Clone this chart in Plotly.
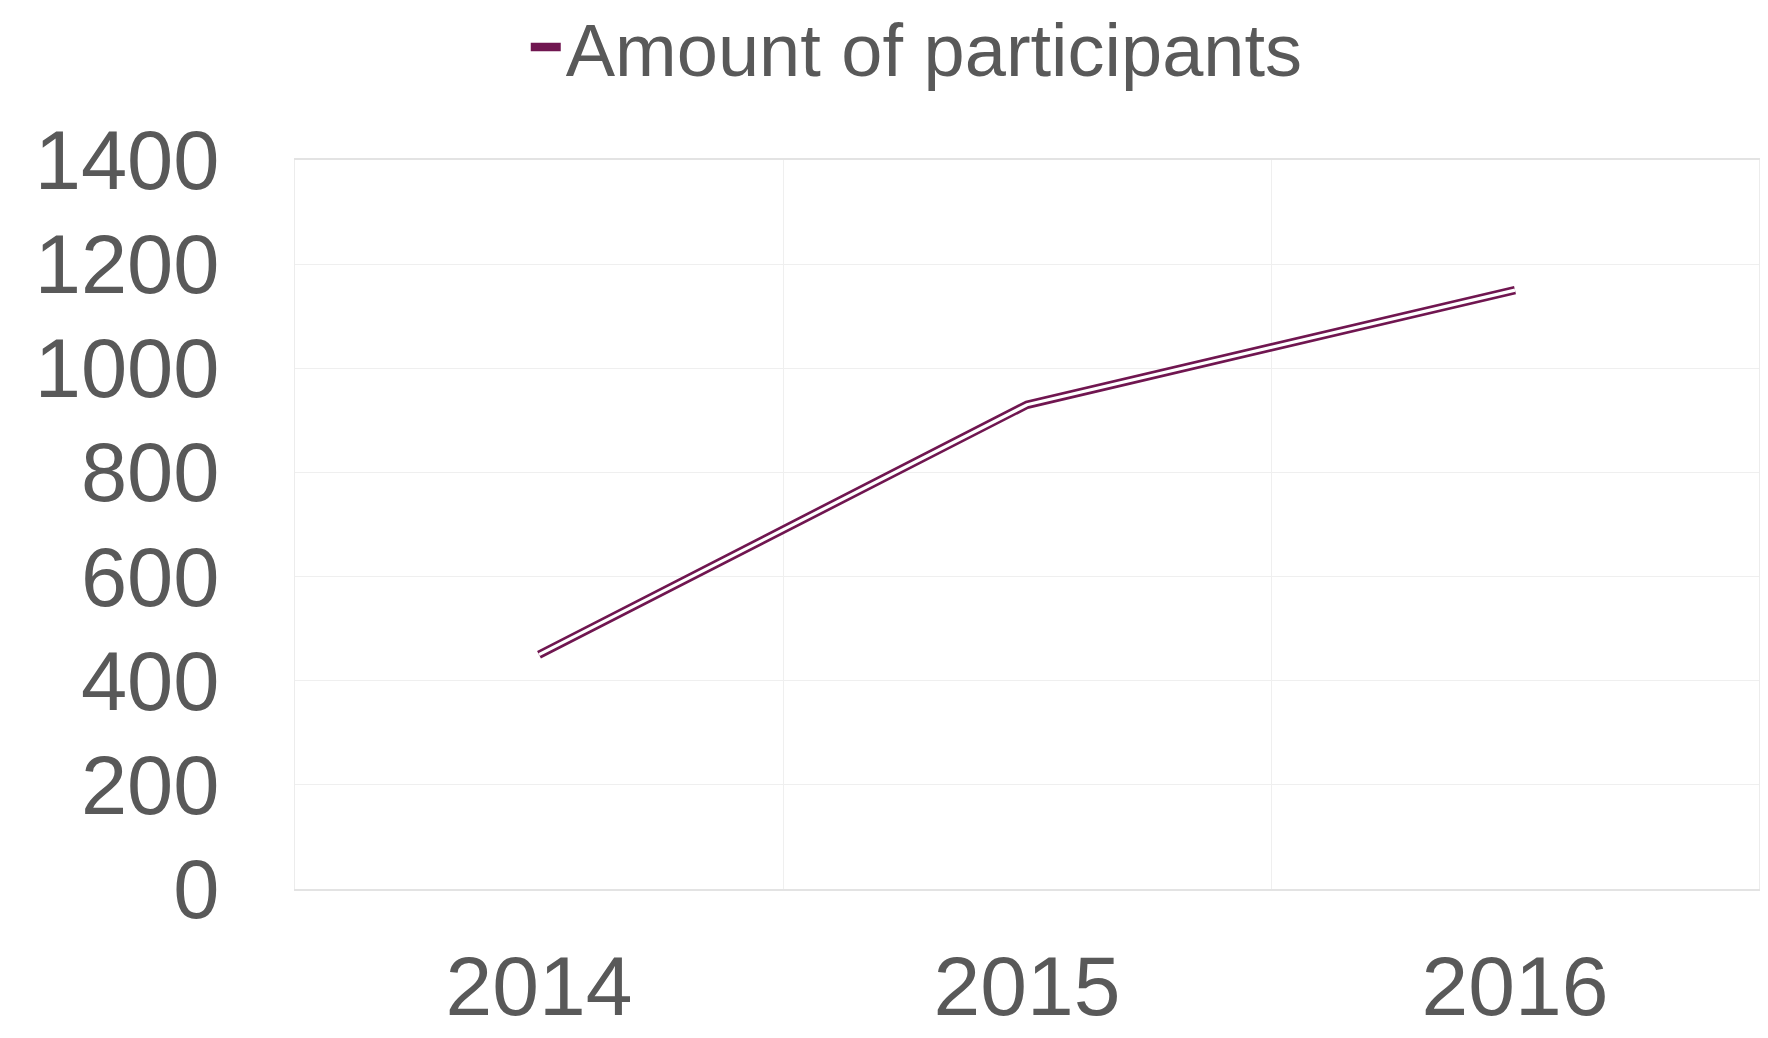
import plotly.graph_objects as go

years = ["2014", "2015", "2016"]
participants = [450, 930, 1150]
y_ticks = [0, 200, 400, 600, 800, 1000, 1200, 1400]

LINE = "#701650"
TEXT = "#595959"
GRID = "#efefef"

fig = go.Figure()
fig.add_trace(go.Scatter(
    x=years, y=participants, mode="lines",
    name="Amount of participants",
    line=dict(color=LINE, width=8.5),
))
fig.add_trace(go.Scatter(
    x=years, y=participants, mode="lines",
    showlegend=False, hoverinfo="skip",
    line=dict(color="white", width=3.2),
))

fig.update_layout(
    width=1768, height=1038,
    margin=dict(l=287, r=17, t=152, b=157, autoexpand=False),
    paper_bgcolor="white", plot_bgcolor="white",
    font=dict(family="Liberation Sans, Arial, sans-serif", color=TEXT),
    showlegend=True,
    legend=dict(
        orientation="h", xref="container", yref="container",
        x=0.514, xanchor="center", y=0.962, yanchor="middle",
        font=dict(size=74, color=TEXT),
        itemwidth=30, borderwidth=0,
    ),
    xaxis=dict(
        type="category", range=[-0.5, 2.5], automargin=False,
        tickson="boundaries", showgrid=True, gridcolor=GRID, gridwidth=1,
        ticks="", ticklen=0,
        tickfont=dict(size=84, color=TEXT),
        ticklabelstandoff=23,
        showline=True, linecolor="#e3e3e3", linewidth=2, mirror=True,
        zeroline=False,
    ),
    yaxis=dict(
        range=[0, 1400], tickvals=y_ticks, automargin=False,
        showgrid=True, gridcolor=GRID, gridwidth=1,
        ticks="", tickfont=dict(size=83, color=TEXT),
        ticklabelstandoff=58,
        showline=True, linecolor="#ececec", linewidth=1, mirror=True,
        zeroline=False,
    ),
)

fig.write_html("out.html")
